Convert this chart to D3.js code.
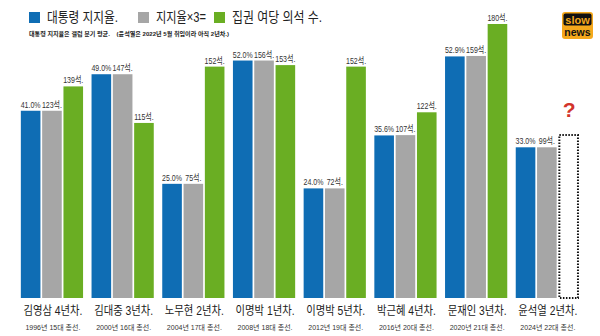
<!DOCTYPE html>
<html><head><meta charset="utf-8">
<script src="https://cdn.jsdelivr.net/npm/d3@7"></script>
<style>
html,body{margin:0;padding:0;background:#fff;}
svg{display:block;}
text{font-family:"Liberation Sans","Noto Sans CJK KR",sans-serif;}
</style></head>
<body><svg id="c" width="600" height="336"></svg>
<script>
const presidents = ["김영삼 4년차.","김대중 3년차.","노무현 2년차.","이명박 1년차.","이명박 5년차.","박근혜 4년차.","문재인 3년차.","윤석열 2년차."];
const elections = ["1996년 15대 총선.","2000년 16대 총선.","2004년 17대 총선.","2008년 18대 총선.","2012년 19대 총선.","2016년 20대 총선.","2020년 21대 총선.","2024년 22대 총선."];
const approval = [41.0,49.0,25.0,52.0,24.0,35.6,52.9,33.0];
const approvalX3 = [123,147,75,156,72,107,159,99];
const seats = [139,115,152,153,152,122,180,null];
const unknownBoxHeight = 107; // dotted placeholder for 2024
const seriesNames = ["대통령 지지율.","지지율×3=","집권 여당 의석 수."];
const colors = ["#0f6db4","#a6a6a6","#6aae23"];

const svg = d3.select("#c");
const y = d3.scaleLinear().domain([0,180]).range([298,24]);
const x = d3.scaleBand().domain(presidents).range([16.6,582.2]).paddingInner(0.12).paddingOuter(0.06);
const xs = d3.scaleBand().domain([0,1,2]).range([0,x.bandwidth()]).paddingInner(0.08);

const rows = presidents.map((p,i)=>({p,i,vals:[
  {k:0,v:approval[i]*3,label:approval[i].toFixed(1)+"%"},
  {k:1,v:approvalX3[i],label:approvalX3[i]+"석."},
  {k:2,v:seats[i],label:seats[i]==null?null:seats[i]+"석."}
]}));

const g = svg.selectAll("g.grp").data(rows).join("g").attr("class","grp")
  .attr("transform",d=>`translate(${x(d.p)},0)`);

g.selectAll("rect").data(d=>d.vals.filter(v=>v.v!=null)).join("rect")
  .attr("x",d=>xs(d.k)).attr("width",xs.bandwidth())
  .attr("y",d=>y(d.v)).attr("height",d=>y(0)-y(d.v))
  .attr("fill",d=>colors[d.k]);

g.selectAll("text.val").data(d=>d.vals.filter(v=>v.v!=null)).join("text").attr("class","val")
  .attr("transform",d=>`translate(${xs(d.k)+xs.bandwidth()/2},${y(d.v)-3}) scale(0.74,1)`)
  .attr("text-anchor","middle").attr("font-size",9.5)
  .attr("fill","#333").text(d=>d.label);

// dotted placeholder
const last = presidents[presidents.length-1];
svg.append("rect")
  .attr("x",x(last)+xs(2)+1).attr("width",xs.bandwidth()-1)
  .attr("y",y(unknownBoxHeight)).attr("height",y(0)-y(unknownBoxHeight))
  .attr("fill","none").attr("stroke","#111").attr("stroke-width",2).attr("stroke-dasharray","1.5,1.5");
svg.append("text").attr("x",x(last)+xs(2)+xs.bandwidth()/2+1).attr("y",y(unknownBoxHeight)-18)
  .attr("text-anchor","middle").attr("font-size",21).attr("font-weight","bold")
  .attr("fill","#d2342b").text("?");

// category labels
g.append("text").attr("x",x.bandwidth()/2+1).attr("y",315).attr("text-anchor","middle")
  .attr("font-size",12.5).attr("fill","#222")
  .attr("textLength",59).attr("lengthAdjust","spacingAndGlyphs").text(d=>d.p);
g.append("text").attr("x",x.bandwidth()/2+1).attr("y",329.5).attr("text-anchor","middle")
  .attr("font-size",7).attr("fill","#333")
  .attr("textLength",55).attr("lengthAdjust","spacingAndGlyphs").text(d=>elections[d.i]);

// legend
const legX = [29,138,214];
const legW = [71,50,90];
seriesNames.forEach((s,i)=>{
  svg.append("rect").attr("x",legX[i]).attr("y",12).attr("width",11).attr("height",11).attr("fill",colors[i]);
  svg.append("text").attr("x",legX[i]+18).attr("y",22).attr("font-size",14).attr("fill","#222")
    .attr("textLength",legW[i]).attr("lengthAdjust","spacingAndGlyphs").text(s);
});
svg.append("text").attr("x",29).attr("y",36).attr("font-size",6).attr("font-weight","bold").attr("fill","#222")
  .attr("xml:space","preserve").attr("textLength",200).attr("lengthAdjust","spacingAndGlyphs")
  .text("대통령 지지율은 갤럽 분기 평균.    (윤석열은 2022년 5월 취임이라 아직 2년차.)");

// logo
const lg = svg.append("g").attr("transform","translate(562,12)");
lg.append("rect").attr("x",0).attr("y",0).attr("width",31).attr("height",27).attr("rx",3).attr("fill","#f5a81c");
lg.append("rect").attr("x",1.5).attr("y",1.5).attr("width",28).attr("height",12).attr("rx",2).attr("fill","#111");
lg.append("text").attr("x",15.5).attr("y",11.5).attr("text-anchor","middle").attr("font-size",11).attr("font-weight","bold").attr("fill","#f5a81c").text("slow");
lg.append("text").attr("x",15.5).attr("y",24).attr("text-anchor","middle").attr("font-size",10.5).attr("font-weight","bold").attr("fill","#111").text("news");
</script></body></html>
